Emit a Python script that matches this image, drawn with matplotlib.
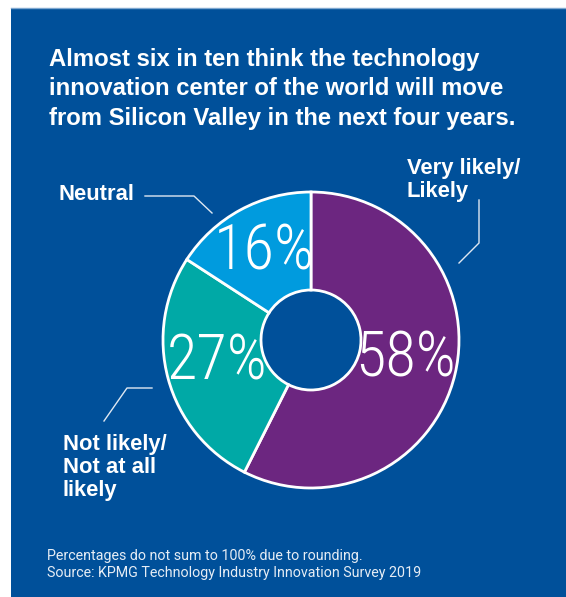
import numpy as np
import matplotlib
matplotlib.use('Agg')
import matplotlib.pyplot as plt
from matplotlib.patches import Rectangle

# datos del grafico
categorias = ['Very likely/\nLikely', 'Not likely/\nNot at all\nlikely', 'Neutral']
valores = [58, 27, 16]
etiquetas_pct = ['58%', '27%', '16%']
colores = ['#6c2680', '#00a9a6', '#009bde']

titulo = ('Almost six in ten think the technology\n'
          'innovation center of the world will move\n'
          'from Silicon Valley in the next four years.')
nota = ('Percentages do not sum to 100% due to rounding.\n'
        'Source: KPMG Technology Industry Innovation Survey 2019')

W, H = 566, 597
AZUL = '#00509a'


def Y(y):
    # paso de coordenadas de imagen (y hacia abajo) a coordenadas del eje
    return H - y


fig = plt.figure(figsize=(W / 100, H / 100), dpi=100)
ax = fig.add_axes([0, 0, 1, 1])

ax.add_patch(Rectangle((11, 0), W - 11, Y(8), facecolor=AZUL, edgecolor='none', zorder=0))
ax.plot([11, W], [Y(8), Y(8)], color='#7fa8d0', lw=1, zorder=1)

cx, cy, r_ext, r_int = 311, Y(340), 148, 50
cunas, _ = ax.pie(valores, colors=colores, startangle=90, counterclock=False,
                  radius=r_ext, center=(cx, cy),
                  wedgeprops=dict(width=r_ext - r_int, edgecolor='white', linewidth=2))

# porcentajes en el medio de cada cuña
for cuna, txt in zip(cunas, etiquetas_pct):
    ang = np.deg2rad((cuna.theta1 + cuna.theta2) / 2)
    x = cx + 97 * np.cos(ang)
    y = cy + 97 * np.sin(ang) + 3
    ax.text(x, y, txt, color='white', fontsize=45, ha='center', va='center',
            family=['Roboto Condensed', 'Roboto', 'DejaVu Sans'], weight='light', zorder=5)

fuente_b = ['Liberation Sans', 'DejaVu Sans']
ax.text(49, Y(48), titulo, color='white', fontsize=17.2, weight='bold',
        family=fuente_b, ha='left', va='top', linespacing=1.35)

# etiquetas de categorias con lineas guia
ax.text(407, Y(158), categorias[0], color='white', fontsize=15.8, weight='bold',
        family=fuente_b, ha='left', va='top', linespacing=1.12)
ax.plot([479, 479, 459], [Y(200), Y(243), Y(263)], color='#dfe8f2', lw=1)

ax.text(63, Y(434), categorias[1], color='white', fontsize=15.8, weight='bold',
        family=fuente_b, ha='left', va='top', linespacing=1.12)
ax.plot([152, 127, 104], [Y(388), Y(388), Y(421)], color='#dfe8f2', lw=1)

ax.text(58, Y(195), categorias[2], color='white', fontsize=15.8, weight='bold',
        family=fuente_b, ha='left', va='center')
ax.plot([145, 194, 212], [Y(196), Y(196), Y(213)], color='#dfe8f2', lw=1)

ax.text(47, Y(549), nota, color='#e6edf5', fontsize=10.3, family=['Roboto', 'DejaVu Sans'],
        ha='left', va='top', linespacing=1.3)

ax.set_xlim(0, W)
ax.set_ylim(0, H)
ax.set_aspect('auto')
ax.axis('off')

fig.savefig('out.png', dpi=100, facecolor='white')
